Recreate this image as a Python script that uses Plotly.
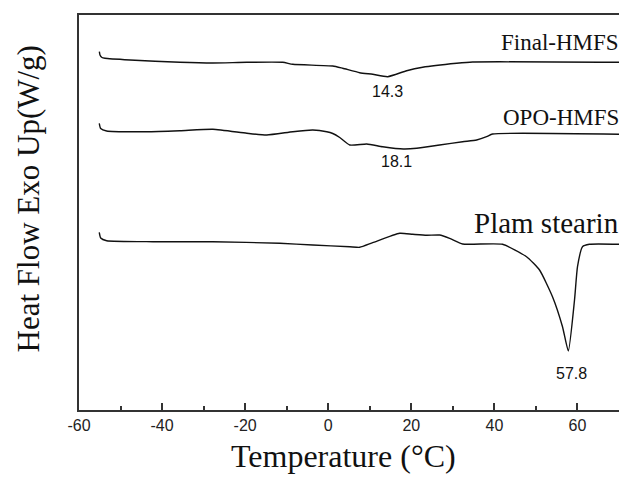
import plotly.graph_objects as go

# Temperature (°C) and heat-flow (arbitrary, offset) values
final_x = [-55.1, -54.95, -54.47, -53.75, -47.73, -35.71, -27.77, -19.6, -10.94, -8.53,
           1.09, 3.49, 7.58, 10.71, 14.3, 18.88, 22.73, 30.91, 34.76, 70]
final_y = [358.3, 355, 352.5, 351.7, 350, 347.7, 347, 347.7, 347.7, 345.7,
           344, 341.7, 337.3, 335.7, 333.3, 339.3, 342.7, 346.7, 348, 347.7]

opo_x = [-55.12, -54.78, -53.34, -43.72, -35.71, -27.77, -19.6, -14.79, -8.53, -3.72,
         -0.36, 1.09, 2.77, 5.18, 9.27, 13.11, 18.1, 21.29, 26.82, 32.35, 35.72,
         38.13, 39.57, 70]
opo_y = [286.7, 281.5, 279, 278.3, 279.3, 280.7, 276.7, 275, 278.3, 280,
         278.3, 276.5, 272.5, 265, 266, 263.3, 261, 261.7, 265, 268.3, 270,
         273.3, 276, 275.7]

palm_x = [-55.12, -54.78, -53.34, -42.2, -27.77, -11.66, -3.72, 5.18, 7.58, 10.71,
          17.2, 20.33, 23.7, 26.82, 29.23, 32.35, 41.97, 47.74, 50.87, 53.99,
          56.4, 57.8, 59.29, 60.01, 61.21, 62.89, 70]
palm_y = [177.7, 172, 169.3, 168.3, 168.3, 166.7, 165, 163.3, 162.7, 167.3,
          176.7, 175.7, 174.7, 175, 171.7, 166, 165.7, 153.3, 140, 113.3,
          83.3, 59, 110, 143.3, 163.3, 165.7, 165.7]

series_names = ["Final-HMFS", "OPO-HMFS", "Plam stearin"]
peak_labels = ["14.3", "18.1", "57.8"]
peak_label_pos = [(14.3, 318.3), (16.5, 249), (58.6, 37)]
name_label_y = [368, 293, 187]
name_label_size = [23, 23, 29]

x_ticks = [-60, -40, -20, 0, 20, 40, 60]

fig = go.Figure()
for xs, ys, nm in zip([final_x, opo_x, palm_x], [final_y, opo_y, palm_y], series_names):
    fig.add_trace(go.Scatter(x=xs, y=ys, mode="lines", name=nm,
                             line=dict(color="#111111", width=1.4, shape="spline", smoothing=0.5),
                             showlegend=False, hoverinfo="skip"))

sans = "Liberation Sans, Arial, sans-serif"
serif = "Liberation Serif, Times New Roman, serif"

for txt, (px, py) in zip(peak_labels, peak_label_pos):
    fig.add_annotation(x=px, y=py, text=txt, showarrow=False,
                       font=dict(family=sans, size=16, color="#111111"),
                       xanchor="center", yanchor="middle")

for txt, py, sz in zip(series_names, name_label_y, name_label_size):
    fig.add_annotation(x=1, xref="paper", y=py, text=txt, showarrow=False,
                       font=dict(family=serif, size=sz, color="#111111"),
                       xanchor="right", yanchor="middle", xshift=2)

fig.add_annotation(x=0.489, y=-0.1165, xref="paper", yref="paper", text="Temperature (°C)",
                   showarrow=False, font=dict(family=serif, size=32, color="#111111"),
                   xanchor="center", yanchor="middle")
fig.add_annotation(x=-0.093, y=0.535, xref="paper", yref="paper", text="Heat Flow Exo Up(W/g)",
                   showarrow=False, font=dict(family=serif, size=31, color="#111111"),
                   textangle=-90, xanchor="center", yanchor="middle")

fig.update_layout(
    width=619, height=477,
    margin=dict(l=79, r=0, t=15, b=67),
    paper_bgcolor="white", plot_bgcolor="white",
    xaxis=dict(range=[-60, 70], tickvals=x_ticks, ticktext=[str(v) for v in x_ticks],
               showgrid=False, zeroline=False, showline=True, linecolor="#333333", linewidth=2,
               mirror=True, ticks="inside", ticklen=7, tickwidth=1.5, tickcolor="#333333",
               minor=dict(dtick=10, tick0=-60, ticks="inside", ticklen=4, tickwidth=1.5,
                          tickcolor="#333333", showgrid=False),
               tickfont=dict(family=sans, size=16, color="#222222")),
    yaxis=dict(range=[0, 395], showgrid=False, zeroline=False, showline=True,
               linecolor="#333333", linewidth=2, showticklabels=False, ticks=""),
)

fig.write_html("out.html")
